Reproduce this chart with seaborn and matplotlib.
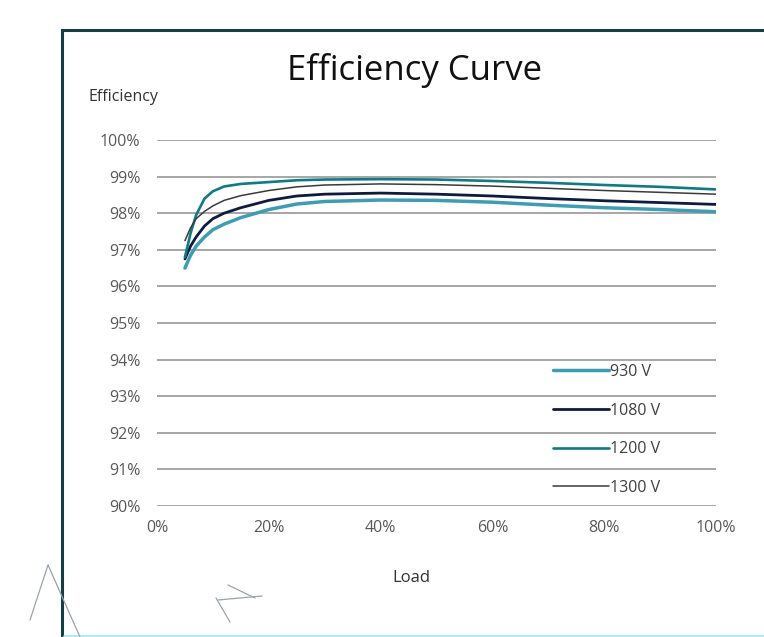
import matplotlib
matplotlib.use("Agg")
import matplotlib.pyplot as plt
import seaborn as sns
import pandas as pd
from matplotlib.lines import Line2D
from matplotlib.patches import Rectangle
from matplotlib.ticker import FuncFormatter

sns.set_theme(style="white")
plt.rcParams['font.family'] = ['Open Sans', 'DejaVu Sans']

load = [5, 6, 7, 8.5, 10, 12, 15, 20, 25, 30, 40, 50, 60, 70, 80, 90, 100]
eff_930 = [96.5, 96.85, 97.1, 97.35, 97.55, 97.7, 97.88, 98.1, 98.25, 98.32, 98.36, 98.35, 98.3, 98.22, 98.15, 98.1, 98.04]
eff_1080 = [96.75, 97.1, 97.35, 97.65, 97.85, 98.0, 98.15, 98.35, 98.47, 98.52, 98.55, 98.52, 98.47, 98.4, 98.34, 98.29, 98.24]
eff_1200 = [96.8, 97.45, 97.95, 98.4, 98.6, 98.73, 98.8, 98.85, 98.9, 98.92, 98.93, 98.92, 98.88, 98.83, 98.77, 98.72, 98.65]
eff_1300 = [97.25, 97.6, 97.85, 98.05, 98.2, 98.35, 98.48, 98.62, 98.72, 98.77, 98.8, 98.78, 98.74, 98.68, 98.62, 98.57, 98.52]
series_names = ["930 V", "1080 V", "1200 V", "1300 V"]
x_ticks = [0, 20, 40, 60, 80, 100]
y_ticks = [90, 91, 92, 93, 94, 95, 96, 97, 98, 99, 100]

colors = {"930 V": "#3f9db3", "1080 V": "#0d1b3d", "1200 V": "#117a86", "1300 V": "#3a3a3a"}
widths = {"930 V": 2.5, "1080 V": 2.0, "1200 V": 1.9, "1300 V": 1.1}

rows = []
for name, vals in zip(series_names, [eff_930, eff_1080, eff_1200, eff_1300]):
    for l, v in zip(load, vals):
        rows.append({"Load": l, "Efficiency": v, "Voltage": name})
df = pd.DataFrame(rows)

W, H = 764, 637
fig = plt.figure(figsize=(W / 100, H / 100), dpi=100)
ax = fig.add_axes([157 / W, 1 - 506 / H, (716 - 157) / W, (506 - 140) / H])

for name in series_names:
    sub = df[df["Voltage"] == name]
    sns.lineplot(data=sub, x="Load", y="Efficiency", ax=ax, color=colors[name],
                 linewidth=widths[name], legend=False)

ax.set_xlim(0, 100)
ax.set_ylim(90, 100)
ax.set_xticks(x_ticks)
ax.set_yticks(y_ticks)
ax.xaxis.set_major_formatter(FuncFormatter(lambda v, p: f"{int(v)}%"))
ax.yaxis.set_major_formatter(FuncFormatter(lambda v, p: f"{int(v)}%"))
ax.tick_params(axis="both", length=0, labelsize=11.5, labelcolor="#595959")
ax.tick_params(axis="y", pad=12)
ax.tick_params(axis="x", pad=10)
ax.grid(axis="y", color="#a6a6a6", linewidth=1.4)
ax.set_axisbelow(True)
for s in ax.spines.values():
    s.set_visible(False)
ax.set_xlabel("")
ax.set_ylabel("")

fig.text(415 / W, 1 - 70 / H, "Efficiency Curve", ha="center", va="center", fontsize=25, color="#111111")
fig.text(88 / W, 1 - 97 / H, "Efficiency", ha="left", va="center", fontsize=11.5, color="#333333")
fig.text(411 / W, 1 - 578 / H, "Load", ha="center", va="center", fontsize=12, color="#333333")

handles = [Line2D([0], [0], color=colors[n], linewidth=widths[n]) for n in series_names]
leg = ax.legend(handles, series_names, loc="upper left", bbox_to_anchor=(553 / W, 1 - 364 / H),
                bbox_transform=fig.transFigure, frameon=False, fontsize=11.5, handlelength=3.5,
                handletextpad=0.1, labelspacing=1.42, borderpad=0, borderaxespad=0)
for t in leg.get_texts():
    t.set_color("#404040")

# outer frame
fig.patches.append(Rectangle((62 / W, -0.05), 1.2, 1 - 30 / H + 0.05, transform=fig.transFigure,
                             fill=False, edgecolor="#163c44", linewidth=2.2))
fig.lines.append(Line2D([64 / W, 1], [1.5 / H, 1.5 / H], transform=fig.transFigure, color="#a8eef5", linewidth=2))
# faint stray strokes
for xs, ys in [([48, 30], [565, 620]), ([48, 80], [565, 637]), ([228, 255], [585, 598]),
               ([218, 262], [600, 596]), ([216, 230], [598, 622])]:
    fig.lines.append(Line2D([x / W for x in xs], [1 - y / H for y in ys], transform=fig.transFigure,
                            color="#9aa3ab", linewidth=0.9))

fig.savefig("out.png", dpi=100)
